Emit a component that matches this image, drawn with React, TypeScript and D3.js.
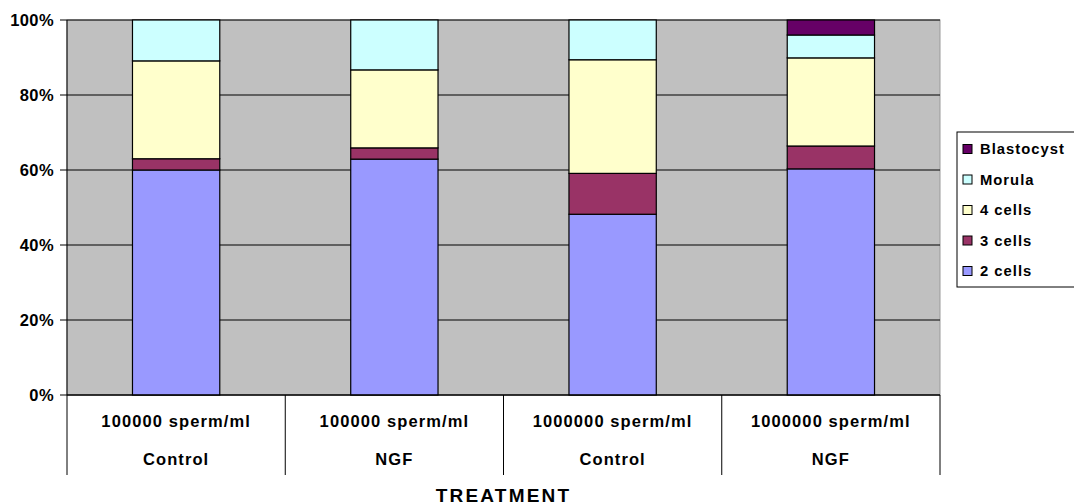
import React from "react";
import * as d3 from "d3";

const doses = ["100000 sperm/ml", "100000 sperm/ml", "1000000 sperm/ml", "1000000 sperm/ml"];
const treatments = ["Control", "NGF", "Control", "NGF"];
const seriesNames = ["2 cells", "3 cells", "4 cells", "Morula", "Blastocyst"];
const seriesColors = ["#9999FF", "#993366", "#FFFFCC", "#CCFFFF", "#660066"];
const twoCells = [60.0, 62.9, 48.2, 60.3];
const threeCells = [3.0, 3.0, 10.9, 6.1];
const fourCells = [26.1, 20.8, 30.3, 23.5];
const morula = [10.9, 13.3, 10.6, 6.1];
const blastocyst = [0, 0, 0, 4.0];
const yTicks = [0, 20, 40, 60, 80, 100];
const xTitle = "TREATMENT";

const W = 1074, H = 504;
const L = 67, R = 940, T = 20, B = 395;
const FONT = "Arial, 'Liberation Sans', sans-serif";

export default function App() {
  const keys = seriesNames;
  const valuesBySeries = [twoCells, threeCells, fourCells, morula, blastocyst];
  const rows = doses.map((_, i) => {
    const r: any = { idx: i };
    keys.forEach((k, j) => (r[k] = valuesBySeries[j][i]));
    return r;
  });
  const totals = rows.map((r) => d3.sum(keys, (k) => r[k]));
  const norm = rows.map((r, i) => {
    const o: any = { idx: i };
    keys.forEach((k) => (o[k] = (r[k] / totals[i]) * 100));
    return o;
  });
  const stacked = d3.stack<any>().keys(keys)(norm);

  const x = d3
    .scaleBand<number>()
    .domain(doses.map((_, i) => i))
    .range([L, R])
    .paddingInner(0.6)
    .paddingOuter(0.3);
  const y = d3.scaleLinear().domain([0, 100]).range([B, T]);
  const step = x.step();
  const dividers = d3.range(doses.length + 1).map((i) => L + i * step);

  const legendItems = seriesNames.map((n, i) => ({ n, c: seriesColors[i] })).reverse();

  return (
    <svg width={W} height={H} style={{ position: "absolute", left: 0, top: 0 }} fontFamily={FONT}>
      <rect x={0} y={0} width={W} height={H} fill="#fff" />
      <rect x={L} y={T} width={R - L} height={B - T} fill="#C0C0C0" stroke="#9a9a9a" strokeWidth={1} />
      {yTicks.map((t) => (
        <line key={t} x1={L} x2={R} y1={y(t)} y2={y(t)} stroke="#000" strokeWidth={1} />
      ))}
      {stacked.map((s, si) =>
        s.map((d, i) =>
          d[1] - d[0] > 0 ? (
            <rect
              key={si + "-" + i}
              x={x(i)!}
              width={x.bandwidth()}
              y={y(d[1])}
              height={y(d[0]) - y(d[1])}
              fill={seriesColors[si]}
              stroke="#000"
              strokeWidth={1.2}
            />
          ) : null
        )
      )}
      <line x1={L} x2={L} y1={T} y2={B} stroke="#000" />
      <line x1={L} x2={R} y1={B} y2={B} stroke="#000" />
      {yTicks.map((t) => (
        <g key={"t" + t}>
          <line x1={L - 7} x2={L} y1={y(t)} y2={y(t)} stroke="#000" />
          <text
            x={L - 13}
            y={y(t)}
            dy="0.36em"
            textAnchor="end"
            fontSize={16.5}
            fontWeight="bold"
            letterSpacing={0.4}
          >
            {t + "%"}
          </text>
        </g>
      ))}
      {dividers.map((dx, i) => (
        <line key={"d" + i} x1={dx} x2={dx} y1={B} y2={475} stroke="#000" />
      ))}
      {doses.map((d, i) => (
        <g key={"c" + i}>
          <text
            x={L + (i + 0.5) * step}
            y={426.5}
            textAnchor="middle"
            fontSize={16.5}
            fontWeight="bold"
            letterSpacing={1.1}
          >
            {d}
          </text>
          <text
            x={L + (i + 0.5) * step}
            y={465}
            textAnchor="middle"
            fontSize={16.5}
            fontWeight="bold"
            letterSpacing={1.1}
          >
            {treatments[i]}
          </text>
        </g>
      ))}
      <text
        x={(L + R) / 2}
        y={501.5}
        textAnchor="middle"
        fontSize={19}
        fontWeight="bold"
        letterSpacing={2.2}
      >
        {xTitle}
      </text>
      <rect x={957} y={132} width={130} height={155} fill="#fff" stroke="#000" strokeWidth={1} />
      {legendItems.map((it, i) => (
        <g key={it.n} transform={`translate(963, ${149 + i * 30.5})`}>
          <rect x={0} y={-4.5} width={9} height={9} fill={it.c} stroke="#000" strokeWidth={1} />
          <text x={17} y={0} dy="0.36em" fontSize={14.8} fontWeight="bold" letterSpacing={1}>
            {it.n}
          </text>
        </g>
      ))}
    </svg>
  );
}
